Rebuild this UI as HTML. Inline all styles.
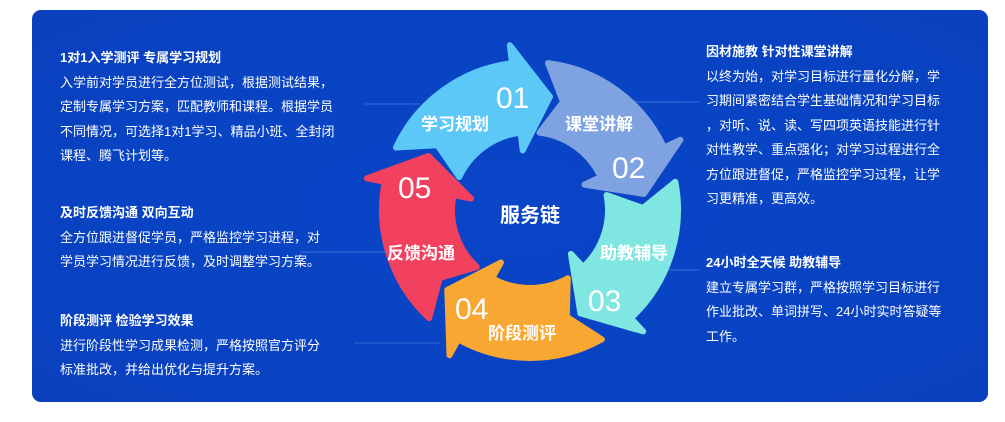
<!DOCTYPE html>
<html><head><meta charset="utf-8"><style>
body{margin:0;width:1005px;height:422px;background:#fff;position:relative;overflow:hidden;font-family:"Liberation Sans","Noto Sans CJK SC",sans-serif;}
.bg{position:absolute;left:32px;top:10px;width:956px;height:392px;border-radius:9px;background:radial-gradient(ellipse at 50% 50%,#0a45c8 0%,#0843c3 60%,#0a40bd 100%);}
.t{position:absolute;color:#fff;font-size:13px;line-height:24.5px;}
.t b{display:block;font-size:13px;}
svg{position:absolute;left:0;top:0;}
.lbl{position:absolute;color:#fff;font-weight:bold;font-size:17px;white-space:nowrap;}
.num{position:absolute;color:#fff;font-size:30px;white-space:nowrap;}
</style></head><body>
<div class="bg"></div>
<svg width="1005" height="422" id="s">
<g stroke="#3b6ad6" stroke-width="1">
<line x1="365" y1="104" x2="420" y2="104"/>
<line x1="300" y1="252" x2="385" y2="252"/>
<line x1="355" y1="343" x2="440" y2="343"/>
<line x1="625" y1="102" x2="700" y2="102"/>
<line x1="660" y1="270" x2="700" y2="270"/>
</g>
<g id="arrows"></g>
</svg>
<script>
(function(){
var cx=530,cy=210,g=document.getElementById('arrows');
var cols=['#5cc8f7','#7fa3e0','#80e6e1','#f9a733','#f2415f'];
var starts=[205,277,349,61,133];
function p(r,a){a=a*Math.PI/180;return (cx+r*Math.cos(a)).toFixed(1)+','+(cy+r*Math.sin(a)).toFixed(1);}
for(var i=0;i<5;i++){
var a0=starts[i],a1=a0+58,ro=148,ri=78;
var d='M'+p(ro,a0)+' A'+ro+','+ro+' 0 0 1 '+p(ro,a1)+' L'+p(166,a1)+' L'+p(115,a1+17)+' L'+p(60,a1)+' L'+p(ri,a1)+' A'+ri+','+ri+' 0 0 0 '+p(ri,a0)+' L'+p(113,a0+10)+' Z';
var e=document.createElementNS('http://www.w3.org/2000/svg','path');
e.setAttribute('d',d);e.setAttribute('fill',cols[i]);e.setAttribute('stroke',cols[i]);e.setAttribute('stroke-width','6');e.setAttribute('stroke-linejoin','round');
g.appendChild(e);}
})();
</script>
<div class="t" style="left:60px;top:46px;"><b>1对1入学测评 专属学习规划</b>入学前对学员进行全方位测试，根据测试结果，<br>定制专属学习方案，匹配教师和课程。根据学员<br>不同情况，可选择1对1学习、精品小班、全封闭<br>课程、腾飞计划等。</div>
<div class="t" style="left:60px;top:201px;"><b>及时反馈沟通 双向互动</b>全方位跟进督促学员，严格监控学习进程，对<br>学员学习情况进行反馈，及时调整学习方案。</div>
<div class="t" style="left:60px;top:309px;"><b>阶段测评 检验学习效果</b>进行阶段性学习成果检测，严格按照官方评分<br>标准批改，并给出优化与提升方案。</div>
<div class="t" style="left:706px;top:40px;"><b>因材施教 针对性课堂讲解</b>以终为始，对学习目标进行量化分解，学<br>习期间紧密结合学生基础情况和学习目标<br>，对听、说、读、写四项英语技能进行针<br>对性教学、重点强化；对学习过程进行全<br>方位跟进督促，严格监控学习过程，让学<br>习更精准，更高效。</div>
<div class="t" style="left:706px;top:251px;"><b>24小时全天候 助教辅导</b>建立专属学习群，严格按照学习目标进行<br>作业批改、单词拼写、24小时实时答疑等<br>工作。</div>
<div class="lbl" style="left:421px;top:110px;">学习规划</div>
<div class="num" style="left:496px;top:82px;">01</div>
<div class="lbl" style="left:565px;top:110px;">课堂讲解</div>
<div class="num" style="left:612px;top:152px;">02</div>
<div class="lbl" style="left:600px;top:239px;">助教辅导</div>
<div class="num" style="left:588px;top:285px;">03</div>
<div class="lbl" style="left:488px;top:319px;">阶段测评</div>
<div class="num" style="left:455px;top:293px;">04</div>
<div class="lbl" style="left:387px;top:239px;">反馈沟通</div>
<div class="num" style="left:398px;top:172px;">05</div>
<div class="lbl" style="left:500px;top:199px;font-size:20px;">服务链</div>
</body></html>
